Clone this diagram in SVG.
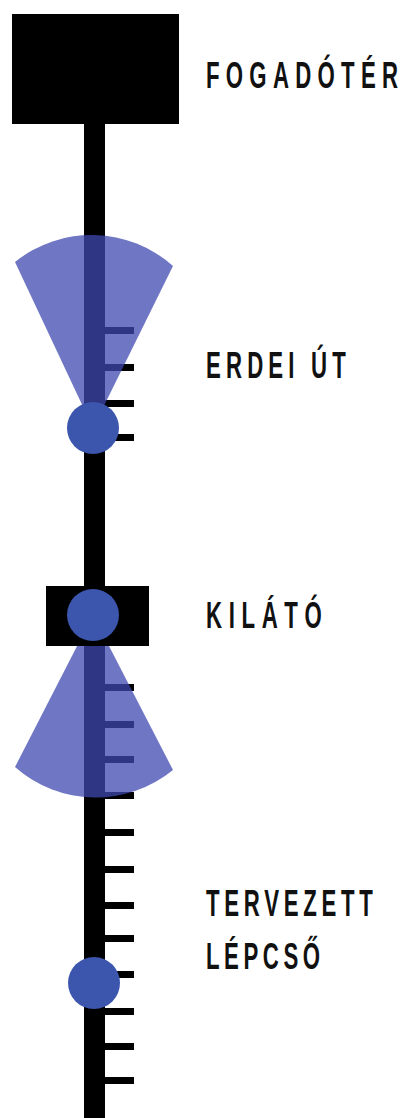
<svg xmlns="http://www.w3.org/2000/svg" width="404" height="1118" viewBox="0 0 404 1118">
<style>
.blk{fill:#000}
.tick{fill:#000}
.fan{fill:#3f48b0;fill-opacity:0.75}
.dot{fill:#3b56ac}
.lbl{font-family:"Liberation Sans","DejaVu Sans",sans-serif;font-weight:bold;font-size:37px;fill:#111}
</style>
<rect width="404" height="1118" fill="#fff"/>
<g id="connectors">
<rect class="blk" x="84" y="120" width="21" height="998"/>
<g id="ticks">
<rect class="tick" x="105" y="327" width="29" height="7"/>
<rect class="tick" x="105" y="364" width="29" height="7"/>
<rect class="tick" x="105" y="400" width="29" height="7"/>
<rect class="tick" x="105" y="434" width="29" height="7"/>
<rect class="tick" x="105" y="684" width="29" height="7"/>
<rect class="tick" x="105" y="721" width="29" height="7"/>
<rect class="tick" x="105" y="756" width="29" height="7"/>
<rect class="tick" x="105" y="792" width="29" height="7"/>
<rect class="tick" x="105" y="829" width="29" height="7"/>
<rect class="tick" x="105" y="866" width="29" height="7"/>
<rect class="tick" x="105" y="902" width="29" height="7"/>
<rect class="tick" x="105" y="935" width="29" height="7"/>
<rect class="tick" x="105" y="971" width="29" height="7"/>
<rect class="tick" x="105" y="1008" width="29" height="7"/>
<rect class="tick" x="105" y="1043" width="29" height="7"/>
<rect class="tick" x="105" y="1077" width="29" height="7"/>
</g>
</g>
<g id="fogadoter">
<rect class="blk" x="12" y="14" width="167" height="110"/>
<text class="lbl" transform="translate(206,88) scale(0.6,1)" textLength="320" lengthAdjust="spacing">FOGADÓTÉR</text>
</g>
<g id="erdei-ut">
<path class="fan" d="M93 428 L15 262 A122 122 0 0 1 173 266 Z"/>
<circle class="dot" cx="93" cy="428" r="26"/>
<text class="lbl" transform="translate(206,378) scale(0.6,1)" textLength="233" lengthAdjust="spacing">ERDEI ÚT</text>
</g>
<g id="kilato">
<path class="fan" d="M93 615 L15 767 A122 122 0 0 0 173 770 Z"/>
<rect class="blk" x="46" y="586" width="103" height="60"/>
<circle class="dot" cx="93" cy="615" r="26"/>
<text class="lbl" transform="translate(206,628) scale(0.6,1)" textLength="193" lengthAdjust="spacing">KILÁTÓ</text>
</g>
<g id="tervezett-lepcso">
<circle class="dot" cx="94" cy="983" r="26"/>
<text class="lbl" transform="translate(206,916) scale(0.6,1)" textLength="278" lengthAdjust="spacing">TERVEZETT</text>
<text class="lbl" transform="translate(206,969) scale(0.6,1)" textLength="190" lengthAdjust="spacing">LÉPCSŐ</text>
</g>
</svg>
